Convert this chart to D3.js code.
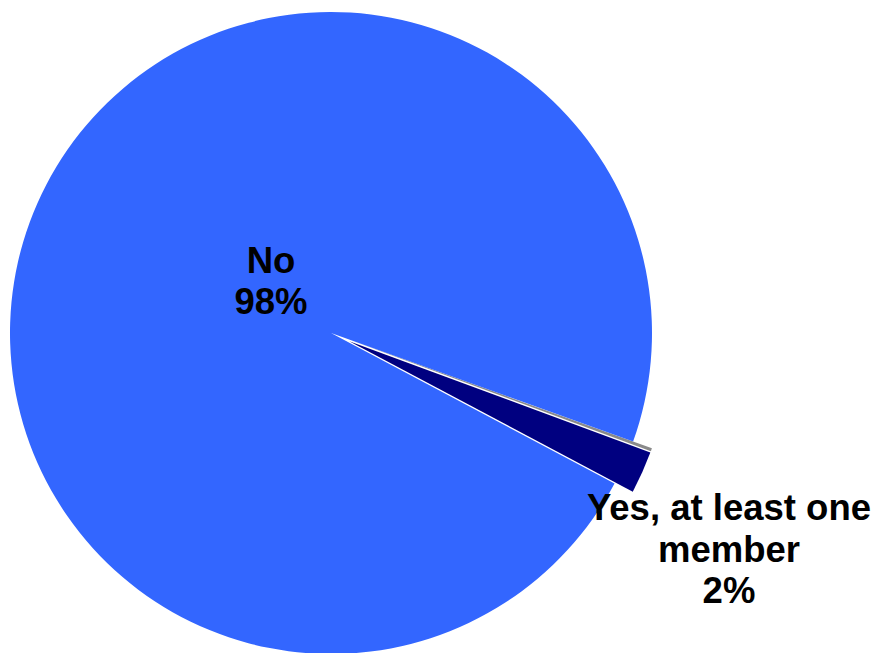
<!DOCTYPE html>
<html>
<head>
<meta charset="utf-8">
<script src="https://cdn.jsdelivr.net/npm/d3@7"></script>
<style>
  html, body { margin: 0; padding: 0; background: #ffffff; overflow: hidden; }
  svg { display: block; }
  text { font-family: "Liberation Sans", Arial, sans-serif; font-weight: bold; }
</style>
</head>
<body>
<svg id="chart" width="878" height="653"></svg>
<script>
// Data
const categories = ["Other", "Yes, at least one member", "No"];
const values = [0.15, 2.13, 97.72];
const colors = ["#8a8a8a", "#000080", "#3366FF"];
const exploded = [true, true, false];
const labelLines = [
  [],
  ["Yes, at least one", "member", "2%"],
  ["No", "98%"]
];

const W = 878, H = 653;
const cx = 331, cy = 333, R = 321;
const explode = 20;
const startDeg = 109.75;

const svg = d3.select("#chart");
const g = svg.append("g").attr("transform", `translate(${cx},${cy})`);

const pie = d3.pie().sort(null).value(d => d.value)
  .startAngle(startDeg * Math.PI / 180)
  .endAngle(startDeg * Math.PI / 180 + 2 * Math.PI);

const data = categories.map((c, i) => ({ cat: c, value: values[i], color: colors[i], exp: exploded[i], lines: labelLines[i] }));
const arcs = pie(data);
const arc = d3.arc().innerRadius(0).outerRadius(R);

g.selectAll("path.slice")
  .data(arcs)
  .join("path")
  .attr("class", "slice")
  .attr("d", arc)
  .attr("fill", d => d.data.color)
  .attr("stroke", "none")
  .attr("transform", d => {
    if (!d.data.exp) return null;
    const a = (d.startAngle + d.endAngle) / 2;
    return `translate(${explode * Math.sin(a)},${-explode * Math.cos(a)})`;
  });

// Labels
const labelPos = {
  "No": [271 - cx, 272.7 - cy],
  "Yes, at least one member": [729 - cx, 520 - cy]
};
const lineH = 41.5;
arcs.forEach(d => {
  if (!d.data.lines.length) return;
  const p = labelPos[d.data.cat];
  const t = g.append("text")
    .attr("text-anchor", "middle")
    .attr("font-size", 36.5)
    .attr("fill", "#000000")
    .attr("x", p[0]).attr("y", p[1]);
  d.data.lines.forEach((ln, i) => {
    t.append("tspan").attr("x", p[0]).attr("y", p[1] + i * lineH).text(ln);
  });
});
</script>
</body>
</html>
